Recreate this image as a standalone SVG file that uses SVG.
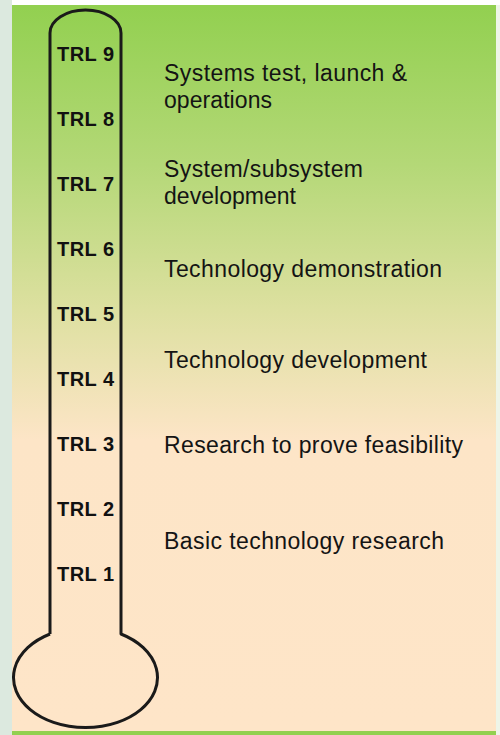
<svg xmlns="http://www.w3.org/2000/svg" width="500" height="735" viewBox="0 0 500 735">
<defs>
<linearGradient id="bg" x1="0" y1="0" x2="0" y2="1">
<stop offset="0" stop-color="#92d050"/>
<stop offset="0.22" stop-color="#b4d877"/>
<stop offset="0.42" stop-color="#dde0a0"/>
<stop offset="0.6" stop-color="#fde5c7"/>
<stop offset="1" stop-color="#fee5c8"/>
</linearGradient>
<style>
.trl{font-family:"Liberation Sans",Arial,sans-serif;font-weight:bold;font-size:20px;fill:#111;text-anchor:middle}
.desc{font-family:"Liberation Sans",Arial,sans-serif;font-size:23px;fill:#141414}
.outline{fill:none;stroke:#1a1a1a;stroke-width:3;stroke-linejoin:round}
</style>
</defs>
<rect x="0" y="0" width="500" height="735" fill="#ffffff"/>
<rect x="0" y="0" width="12" height="735" fill="#dce9df"/>
<rect x="496" y="5" width="4" height="730" fill="#eef5e8"/>
<rect x="12" y="5" width="484" height="726" fill="url(#bg)"/>
<rect x="12" y="731" width="484" height="4" fill="#92d050"/>
<g id="thermometer">
<path class="outline" d="M50,634 L50,33 A35.5,23 0 0 1 121,33 L121,634 A72,50 0 1 1 50,634"/>
</g>
<g id="levels">
<g id="trl9"><text class="trl" x="85.5" y="61" textLength="57">TRL 9</text></g>
<g id="trl8"><text class="trl" x="85.5" y="126" textLength="57">TRL 8</text></g>
<g id="trl7"><text class="trl" x="85.5" y="191" textLength="57">TRL 7</text></g>
<g id="trl6"><text class="trl" x="85.5" y="256" textLength="57">TRL 6</text></g>
<g id="trl5"><text class="trl" x="85.5" y="321" textLength="57">TRL 5</text></g>
<g id="trl4"><text class="trl" x="85.5" y="386" textLength="57">TRL 4</text></g>
<g id="trl3"><text class="trl" x="85.5" y="451" textLength="57">TRL 3</text></g>
<g id="trl2"><text class="trl" x="85.5" y="516" textLength="57">TRL 2</text></g>
<g id="trl1"><text class="trl" x="85.5" y="581" textLength="57">TRL 1</text></g>
</g>
<g id="descriptions">
<g id="d89"><text class="desc" x="164" y="81" textLength="243">Systems test, launch &amp;</text><text class="desc" x="164" y="107.5" textLength="108">operations</text></g>
<g id="d7"><text class="desc" x="164" y="177" textLength="199">System/subsystem</text><text class="desc" x="164" y="204" textLength="132">development</text></g>
<g id="d6"><text class="desc" x="164" y="277" textLength="278">Technology demonstration</text></g>
<g id="d45"><text class="desc" x="164" y="367.5" textLength="263">Technology development</text></g>
<g id="d3"><text class="desc" x="164" y="452.5" textLength="299">Research to prove feasibility</text></g>
<g id="d12"><text class="desc" x="164" y="549" textLength="280">Basic technology research</text></g>
</g>
</svg>
